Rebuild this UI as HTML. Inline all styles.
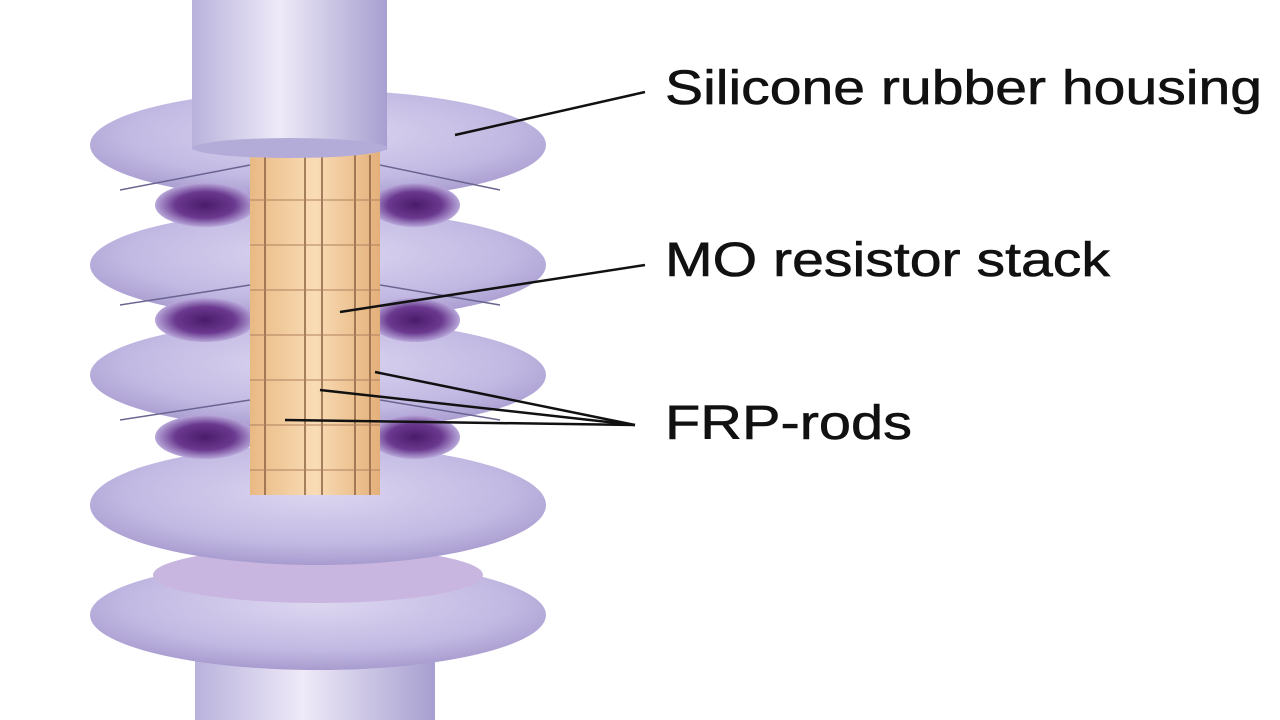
<!DOCTYPE html>
<html><head><meta charset="utf-8"><style>
html,body{margin:0;padding:0;background:#fff;width:1280px;height:720px;overflow:hidden}
svg{display:block}
text{font-family:"Liberation Sans",sans-serif;font-size:48px;fill:#111;stroke:#111;stroke-width:0.6}
</style></head><body>
<svg width="1280" height="720" viewBox="0 0 1280 720">
<defs>
<linearGradient id="cyl" x1="0" x2="1" y1="0" y2="0">
<stop offset="0" stop-color="#b9b2dc"/><stop offset="0.45" stop-color="#eeeaf8"/><stop offset="1" stop-color="#a79fd0"/></linearGradient>
<radialGradient id="shed" cx="0.5" cy="0.4" r="0.6">
<stop offset="0" stop-color="#dcd6f0"/><stop offset="0.7" stop-color="#c2b9e3"/><stop offset="1" stop-color="#a89ccf"/></radialGradient>
<linearGradient id="core" x1="0" x2="1">
<stop offset="0" stop-color="#e9b984"/><stop offset="0.5" stop-color="#f9dcb5"/><stop offset="1" stop-color="#e4b07a"/></linearGradient>
<radialGradient id="blob" cx="0.5" cy="0.5" r="0.5">
<stop offset="0" stop-color="#4a1a6a"/><stop offset="0.6" stop-color="#6b3a90"/><stop offset="1" stop-color="#b8a8da"/></radialGradient>
</defs>
<rect x="195" y="660" width="240" height="60" fill="url(#cyl)"/>
<ellipse cx="318" cy="615" rx="228" ry="55" fill="url(#shed)"/>
<ellipse cx="318" cy="575" rx="165" ry="28" fill="#c9b6e0"/>
<ellipse cx="318" cy="505" rx="228" ry="60" fill="url(#shed)"/>
<ellipse cx="318" cy="375" rx="228" ry="55" fill="url(#shed)"/>
<ellipse cx="318" cy="265" rx="228" ry="55" fill="url(#shed)"/>
<ellipse cx="318" cy="145" rx="228" ry="55" fill="url(#shed)"/>
<ellipse cx="205" cy="205" rx="50" ry="22" fill="url(#blob)"/>
<ellipse cx="415" cy="205" rx="45" ry="22" fill="url(#blob)"/>
<ellipse cx="205" cy="320" rx="50" ry="22" fill="url(#blob)"/>
<ellipse cx="415" cy="320" rx="45" ry="22" fill="url(#blob)"/>
<ellipse cx="205" cy="437" rx="50" ry="22" fill="url(#blob)"/>
<ellipse cx="415" cy="437" rx="45" ry="22" fill="url(#blob)"/>
<g stroke="#6a6490" stroke-width="1.5" fill="none">
<path d="M120 190 L250 165 M380 165 L500 190"/>
<path d="M120 305 L250 285 M380 285 L500 305"/>
<path d="M120 420 L250 400 M380 400 L500 420"/>
</g>
<rect x="250" y="152" width="130" height="343" fill="url(#core)"/>
<g stroke="#8a6040" stroke-width="1.5">
<line x1="265" y1="155" x2="265" y2="495"/><line x1="305" y1="155" x2="305" y2="495"/>
<line x1="322" y1="155" x2="322" y2="495"/><line x1="355" y1="155" x2="355" y2="495"/>
<line x1="370" y1="155" x2="370" y2="495"/>
</g>
<g stroke="#b08060" stroke-width="1">
<line x1="250" y1="200" x2="380" y2="200"/><line x1="250" y1="245" x2="380" y2="245"/>
<line x1="250" y1="290" x2="380" y2="290"/><line x1="250" y1="335" x2="380" y2="335"/>
<line x1="250" y1="380" x2="380" y2="380"/><line x1="250" y1="425" x2="380" y2="425"/>
<line x1="250" y1="470" x2="380" y2="470"/>
</g>
<rect x="192" y="0" width="195" height="150" fill="url(#cyl)"/>
<ellipse cx="290" cy="148" rx="97" ry="10" fill="#b3abd8"/>
<g stroke="#111" stroke-width="2.5" fill="none">
<line x1="455" y1="135" x2="645" y2="92"/>
<line x1="340" y1="312" x2="645" y2="265"/>
<line x1="375" y1="372" x2="635" y2="425"/>
<line x1="320" y1="390" x2="635" y2="425"/>
<line x1="285" y1="420" x2="635" y2="425"/>
</g>
<text x="665" y="104" textLength="597" lengthAdjust="spacingAndGlyphs">Silicone rubber housing</text>
<text x="665" y="276" textLength="445" lengthAdjust="spacingAndGlyphs">MO resistor stack</text>
<text x="665" y="439" textLength="247" lengthAdjust="spacingAndGlyphs">FRP-rods</text>
</svg>
</body></html>
